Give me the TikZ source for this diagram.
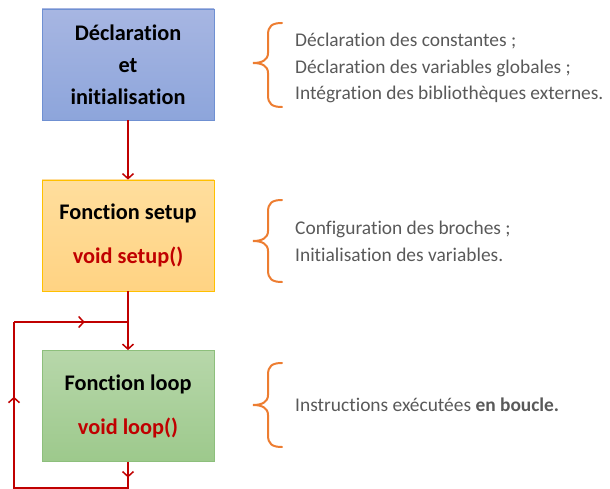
\documentclass[tikz,border=0pt]{standalone}
\usepackage{fontspec}
\setmainfont[Ligatures=NoCommon]{Carlito}
\usetikzlibrary{arrows.meta,decorations.markings}

\definecolor{flowred}{HTML}{C00000}
\definecolor{bracecol}{HTML}{ED7D31}
\definecolor{notegray}{HTML}{595959}
\definecolor{blueTop}{HTML}{A7B6E2}
\definecolor{blueBot}{HTML}{8DA5DB}
\definecolor{blueEdge}{HTML}{6F90D2}
\definecolor{orTop}{HTML}{FFDE9D}
\definecolor{orBot}{HTML}{FFD383}
\definecolor{orEdge}{HTML}{FFC000}
\definecolor{grTop}{HTML}{B7D7AA}
\definecolor{grBot}{HTML}{9DC98C}
\definecolor{grEdge}{HTML}{8DBF7C}

\tikzset{
  stage/.style={minimum width=172pt, minimum height=111pt, inner sep=0pt,
    align=center, line width=0.8pt, text=black},
  boxfont/.style={font=\bfseries\fontsize{22.3}{#1}\selectfont},
  note/.style={anchor=west, align=left, text=notegray, inner sep=0pt,
    font=\fontsize{19.4}{26.5}\selectfont},
  flow/.style={draw=flowred, line width=1.5pt},
  tip/.style={-{Straight Barb[length=5pt,width=11pt,line width=1.5pt]}},
  midtip/.style={postaction={decorate}, decoration={markings,
    mark=at position #1 with {\arrow{Straight Barb[length=5pt,width=11pt,line width=1.5pt]}}}},
  bracestyle/.style={draw=bracecol, line width=2pt, line cap=round}
}

% one curly brace: right ends at x=282, tip at x=253
\newcommand{\curly}[3]{% top, middle, bottom
  \draw[bracestyle] (282,#1) .. controls (272,#1) and (268,#1+3) .. (268,#1+12)
    -- (268,#2-10) .. controls (268,#2-3) and (262,#2) .. (253,#2)
    .. controls (262,#2) and (268,#2+3) .. (268,#2+10)
    -- (268,#3-12) .. controls (268,#3-3) and (272,#3) .. (282,#3);
}

\begin{document}
\begin{tikzpicture}[x=1pt,y=-1pt]
\useasboundingbox (0,0) rectangle (610,489);

% stages of the program
\node[stage, boxfont=32, draw=blueEdge, top color=blueTop, bottom color=blueBot]
  (decl) at (128,64.5) {Déclaration\\et\\initialisation};
\node[stage, boxfont=44, draw=orEdge, top color=orTop, bottom color=orBot]
  (setup) at (128,235.5) {Fonction setup\\\textcolor{flowred}{void setup()}};
\node[stage, boxfont=44, draw=grEdge, top color=grTop, bottom color=grBot]
  (loop) at (128,406) {Fonction loop\\\textcolor{flowred}{void loop()}};

% main flow
\draw[flow, tip] (decl.south) -- (setup.north);
\draw[flow, tip] (setup.south) -- (loop.north);

% return path of the loop
\coordinate (lb) at (128,488);
\coordinate (ll) at (14,488);
\coordinate (lt) at (14,322);
\coordinate (lj) at (128,322);
\draw[flow, midtip=0.6] (loop.south) -- (lb);
\draw[flow, line cap=rect] (lb) -- (ll);
\draw[flow, midtip=0.55] (ll) -- (lt);
\draw[flow, midtip=0.62] (lt) -- (lj);

% notes
\curly{23}{63}{107}
\node[note] (n1) at (295,68) {Déclaration des constantes ;\\Déclaration des variables globales ;\\Intégration des bibliothèques externes.};
\curly{200}{241}{282}
\node[note] (n2) at (295,241.5) {Configuration des broches ;\\Initialisation des variables.};
\curly{363}{405}{447}
\node[note] (n3) at (295,405) {Instructions exécutées \textbf{en boucle.}};
\end{tikzpicture}
\end{document}
